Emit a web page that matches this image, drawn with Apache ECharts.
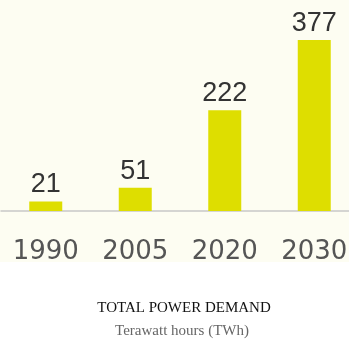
<!DOCTYPE html>
<html>
<head>
<meta charset="utf-8">
<script src="https://cdn.jsdelivr.net/npm/echarts@6/dist/echarts.min.js"></script>
<style>html,body{margin:0;padding:0;background:#fff}#c{width:349px;height:340px}</style>
</head>
<body>
<div id="c"></div>
<script>
const categories = ['1990', '2005', '2020', '2030'];
const demand = [21, 51, 222, 377];
const titleText = 'TOTAL POWER DEMAND';
const subtitleText = 'Terawatt hours (TWh)';

const chart = echarts.init(document.getElementById('c'), null, {renderer: 'canvas'});
chart.setOption({
  animation: false,
  backgroundColor: '#ffffff',
  graphic: [{
    type: 'rect', z: -10, silent: true,
    shape: {x: 0, y: 0, width: 349, height: 262},
    style: {fill: '#fdfdf2'}
  }],
  title: [
    {text: titleText, left: 179, top: 296, textAlign: 'center',
     textStyle: {fontFamily: 'Liberation Serif', fontSize: 15, fontWeight: 'normal', color: '#111'}},
    {text: subtitleText, left: 177, top: 319, textAlign: 'center',
     textStyle: {fontFamily: 'Liberation Serif', fontSize: 15, fontWeight: 'normal', color: '#666'}}
  ],
  grid: {left: 1, width: 358, top: 40, height: 171, outerBoundsMode: 'none'},
  xAxis: {
    type: 'category', data: categories,
    axisLine: {show: true, lineStyle: {color: '#c8c8c8', width: 1.5}},
    axisTick: {show: false},
    axisLabel: {margin: 28, fontFamily: 'DejaVu Sans', fontSize: 26, color: '#555'}
  },
  yAxis: {type: 'value', min: 0, max: 377, show: false, splitLine: {show: false}},
  series: [{
    type: 'bar', data: demand, barWidth: 33,
    itemStyle: {color: '#dede00'},
    label: {show: true, position: 'top', distance: 3,
      fontFamily: 'Liberation Sans', fontSize: 27, color: '#333'}
  }]
});
</script>
</body>
</html>
